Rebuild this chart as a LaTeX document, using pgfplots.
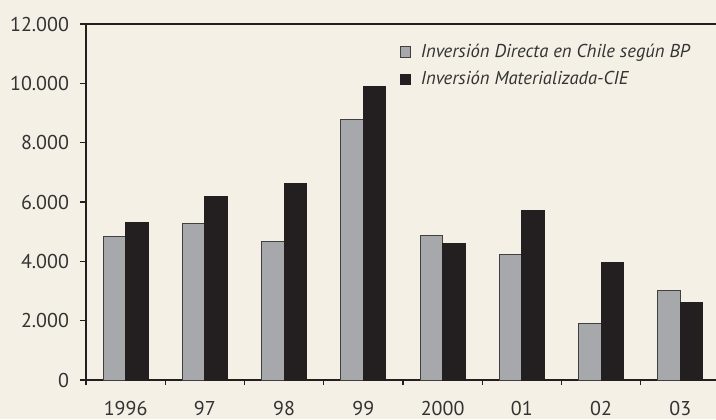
\documentclass[border=0pt]{standalone}
\usepackage{fontspec}
\setmainfont{PT Sans}
\usepackage{pgfplots}
\pgfplotsset{compat=1.18}
\definecolor{bgc}{HTML}{F5F0E5}
\definecolor{barg}{HTML}{A7A8AB}
\definecolor{bark}{HTML}{231F20}
\definecolor{axc}{HTML}{231F20}
\begin{document}
\begin{tikzpicture}
\fill[bgc] (-43pt,-19.5pt) rectangle (315pt,190pt);
\useasboundingbox (-43pt,-19.5pt) rectangle (315pt,190pt);
\begin{axis}[
    scale only axis,
    width=317pt, height=178pt,
    ybar=0pt, bar width=11.25pt,
    xmin=-0.5, xmax=7.5,
    ymin=0, ymax=12000,
    xtick={0,...,7},
    xticklabels={1996,97,98,99,2000,01,02,03},
    minor xtick={-0.5,0.5,...,7.5},
    ytick={0,2000,...,12000},
    scaled y ticks=false,
    /pgf/number format/1000 sep={.},
    /pgf/number format/assume math mode=true,
    tick pos=left, tick align=outside,
    major tick length=3pt, minor tick length=2.5pt,
    x tick style={draw=none},
    minor x tick style={draw=axc, line width=0.6pt},
    y tick style={draw=axc, line width=0.6pt},
    axis line style={draw=axc, line width=0.6pt},
    ticklabel style={font=\fontsize{10}{12}\selectfont, text=black!80},
    xticklabel style={yshift=-4.3pt},
    yticklabel style={xshift=-2pt},
    axis background/.style={fill=none},
    legend style={at={(0.485,0.968)}, anchor=north west, draw=none, fill=none,
        font=\itshape\fontsize{9.3}{11}\selectfont, text=black!80,
        row sep=1.5pt},
    legend cell align=left,
    legend image code/.code={\draw[#1] (0pt,-2.6pt) rectangle (5.2pt,2.6pt); \path (8pt,0pt);},
]
\addplot[fill=barg, draw=black!75, line width=0.5pt] coordinates {
    (0,4830) (1,5280) (2,4660) (3,8765) (4,4865) (5,4225) (6,1910) (7,3010)
};
\addlegendentry{Inversión Directa en Chile según BP}
\addplot[fill=bark, draw=bark, line width=0.5pt] coordinates {
    (0,5300) (1,6180) (2,6620) (3,9910) (4,4600) (5,5730) (6,3965) (7,2605)
};
\addlegendentry{Inversión Materializada-CIE}
\end{axis}
\end{tikzpicture}
\end{document}
